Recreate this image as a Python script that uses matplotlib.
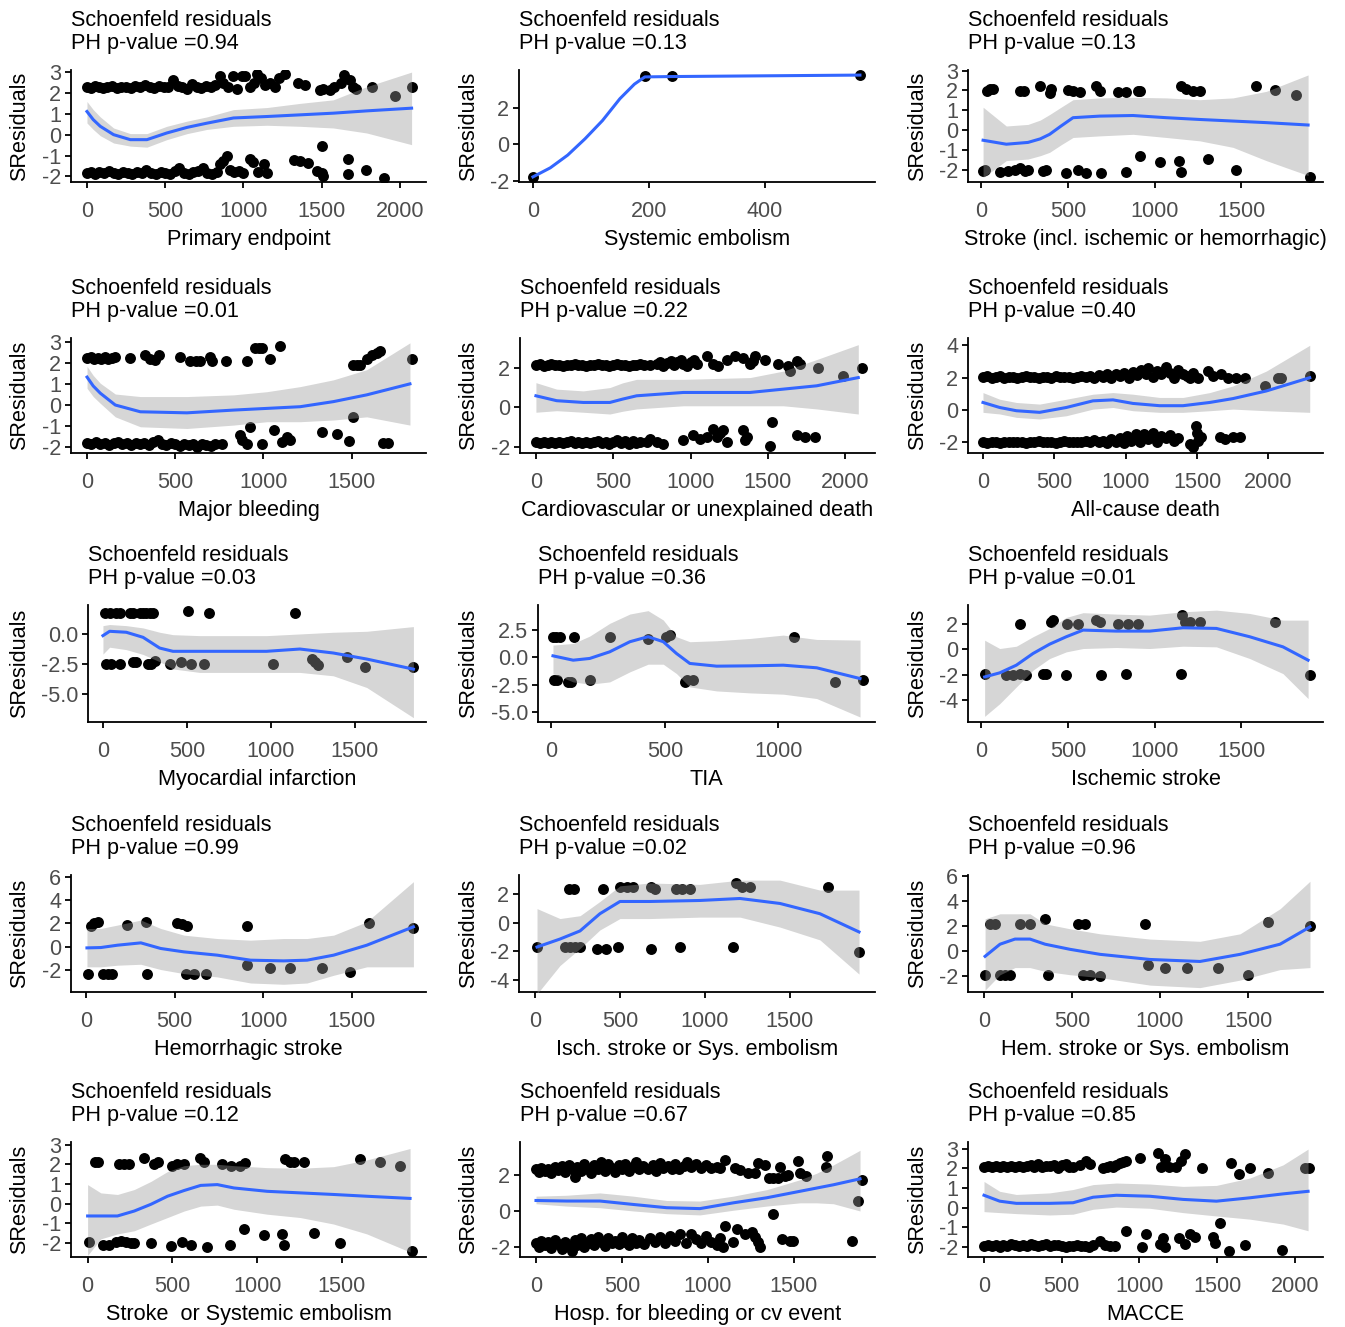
import matplotlib
matplotlib.use("Agg")
import matplotlib.pyplot as plt
import numpy as np

plt.rcParams['font.family'] = ['Liberation Sans', 'DejaVu Sans']
plt.rcParams['axes.unicode_minus'] = False

# ---- data: scaled Schoenfeld residuals (time, residual) per endpoint ----
primary_pts = [
    (0, 2.3), (25, 2.25), (50, 2.35), (75, 2.3), (100, 2.25), (130, 2.3), (160, 2.35), (190, 2.25), (220, 2.3), (250, 2.3),
    (280, 2.25), (310, 2.35), (340, 2.3), (370, 2.4), (400, 2.3), (430, 2.25), (460, 2.35), (490, 2.3), (520, 2.3), (550, 2.6),
    (580, 2.35), (610, 2.3), (640, 2.2), (670, 2.45), (700, 2.3), (730, 2.25), (760, 2.35), (790, 2.3), (820, 2.4), (850, 2.8),
    (870, 2.5), (900, 2.3), (930, 2.8), (960, 2.2), (990, 2.8), (1010, 2.8), (1040, 2.3), (1070, 2.5), (1085, 2.9), (1110, 2.7),
    (1140, 2.4), (1170, 2.5), (1200, 2.3), (1230, 2.7), (1265, 2.9), (1350, 2.5), (1390, 2.4), (1490, 2.15), (1510, 2.2), (1550, 2.15),
    (1580, 2.3), (1620, 2.5), (1640, 2.85), (1680, 2.6), (1700, 2.3), (1720, 2.2), (1819, 2.3), (1968, 1.83), (2074, 2.3),
    (0, -1.85), (25, -1.8), (50, -1.9), (80, -1.8), (110, -1.85), (140, -1.75), (170, -1.85), (200, -1.9), (230, -1.8), (260, -1.85),
    (290, -1.9), (320, -1.8), (350, -1.85), (380, -1.7), (410, -1.85), (440, -1.9), (470, -1.8), (500, -1.85), (530, -1.9), (560, -1.75),
    (590, -1.6), (620, -1.85), (650, -1.9), (680, -1.8), (710, -1.75), (740, -1.6), (770, -1.85), (800, -1.9), (830, -1.8), (850, -1.4),
    (870, -1.25), (894, -1.03), (915, -1.7), (940, -1.8), (970, -1.75), (1000, -1.85), (1043, -1.16), (1060, -1.3), (1090, -1.8), (1128, -1.43),
    (1150, -1.83), (1320, -1.2), (1360, -1.27), (1415, -1.35), (1468, -1.75), (1500, -0.56), (1500, -1.85), (1510, -2.0), (1670, -1.16), (1670, -1.9),
    (1783, -1.7), (1900, -2.06)]
primary_fit = [  # (time, loess fit, lower, upper)
    (0, 1.11, 0.56, 1.59), (40, 0.72, 0.25, 1.2), (85, 0.4, -0.05, 0.85), (170, 0.0, -0.4, 0.32), (277, -0.24, -0.55, 0.05),
    (383, -0.24, -0.6, 0.05), (510, 0.08, -0.24, 0.4), (640, 0.35, 0.05, 0.65), (766, 0.55, 0.25, 0.85),
    (936, 0.8, 0.4, 1.2), (1150, 0.87, 0.45, 1.3), (1362, 0.95, 0.4, 1.5), (1574, 1.03, 0.32, 1.67),
    (1787, 1.14, 0.08, 2.3), (2074, 1.27, -0.48, 3.0)]

sysemb_pts = [(0, -1.8), (193, 3.75), (240, 3.75), (564, 3.8)]
sysemb_fit = [
    (0, -1.8, -1.8, -1.8), (30, -1.3, -1.3, -1.3), (60, -0.6, -0.6, -0.6), (90, 0.3, 0.3, 0.3),
    (120, 1.3, 1.3, 1.3), (150, 2.5, 2.5, 2.5), (175, 3.3, 3.3, 3.3), (193, 3.7, 3.7, 3.7),
    (240, 3.72, 3.72, 3.72), (400, 3.76, 3.76, 3.76), (564, 3.8, 3.8, 3.8)]

stroke_pts = [
    (33, 1.98), (52, 2.08), (67, 2.08), (221, 1.98), (244, 1.98), (337, 2.2), (404, 2.08), (394, 1.87), (500, 2.03), (529, 1.95),
    (567, 1.9), (663, 2.2), (683, 1.98), (788, 1.9), (837, 1.9), (904, 1.95), (913, 1.98), (1154, 2.22), (1183, 2.08), (1221, 1.98),
    (1260, 1.98), (1587, 2.2), (1692, 2.03), (1813, 1.78),
    (10, -2.05), (20, -2.0), (106, -2.1), (154, -2.08), (192, -2.03), (221, -1.9), (250, -2.05), (269, -2.0), (356, -2.05), (375, -2.0),
    (490, -2.2), (558, -2.0), (606, -2.2), (692, -2.2), (837, -2.1), (913, -1.3), (1033, -1.6), (1140, -1.55), (1154, -2.1), (1308, -1.47),
    (1471, -2.0), (1894, -2.4)]
stroke_fit = [
    (10, -0.52, -2.4, 1.15), (144, -0.72, -1.55, 0.2), (269, -0.63, -1.47, 0.28), (340, -0.45, -1.3, 0.5),
    (394, -0.22, -1.13, 0.78), (460, 0.2, -0.75, 1.15),
    (529, 0.62, -0.38, 1.53), (683, 0.7, -0.3, 1.62), (875, 0.73, -0.22, 1.65), (1067, 0.62, -0.38, 1.62),
    (1260, 0.53, -0.55, 1.53), (1452, 0.45, -0.88, 1.62), (1644, 0.37, -1.55, 1.95), (1885, 0.25, -2.3, 2.78)]

bleed_pts = [
    (0, 2.22), (20, 2.25), (40, 2.2), (60, 2.22), (80, 2.18), (100, 2.25), (120, 2.2), (140, 2.22), (160, 2.25), (245, 2.22),
    (330, 2.38), (358, 2.2), (387, 2.14), (406, 2.38), (528, 2.27), (585, 2.1), (615, 2.1), (642, 2.1), (698, 2.27), (708, 2.06),
    (789, 2.1), (906, 2.1), (953, 2.7), (972, 2.7), (991, 2.7), (1038, 2.17), (1094, 2.78), (1509, 1.9), (1528, 1.9), (1547, 1.9),
    (1585, 2.17), (1613, 2.35), (1642, 2.46), (1660, 2.54), (1840, 2.17),
    (0, -1.8), (25, -1.85), (50, -1.75), (75, -1.85), (100, -1.8), (125, -1.9), (150, -1.8), (175, -1.75), (200, -1.85), (225, -1.8),
    (250, -1.9), (275, -1.8), (300, -1.85), (325, -1.8), (350, -1.9), (375, -1.75), (400, -1.65), (425, -1.85), (450, -1.9), (475, -1.8),
    (500, -1.85), (525, -1.95), (550, -1.85), (575, -1.9), (600, -1.85), (625, -2.0), (650, -1.85), (675, -1.9), (700, -1.95), (725, -1.85),
    (764, -1.85), (868, -1.43), (877, -1.67), (906, -1.83), (925, -1.03), (991, -1.83), (1057, -1.16), (1104, -1.75), (1132, -1.5), (1151, -1.67),
    (1330, -1.27), (1419, -1.35), (1487, -1.71), (1509, -0.56), (1679, -1.8), (1708, -1.8)]
bleed_fit = [
    (0, 1.32, 0.79, 1.83), (35, 0.9, 0.4, 1.4), (75, 0.56, 0.08, 1.03), (160, 0.0, -0.56, 0.52), (302, -0.32, -1.03, 0.4),
    (566, -0.37, -1.11, 0.4), (830, -0.24, -0.95, 0.48), (1019, -0.16, -0.79, 0.63), (1208, -0.08, -0.79, 0.87),
    (1396, 0.16, -0.71, 1.19), (1585, 0.48, -0.56, 1.67), (1830, 1.0, -0.95, 2.94)]

cvdeath_pts = [
    (0, 2.16), (25, 2.2), (50, 2.12), (75, 2.16), (100, 2.2), (125, 2.14), (150, 2.16), (175, 2.12), (200, 2.18), (225, 2.16),
    (250, 2.2), (275, 2.14), (300, 2.16), (325, 2.12), (350, 2.18), (375, 2.16), (400, 2.2), (425, 2.14), (450, 2.16), (475, 2.12),
    (500, 2.16), (525, 2.2), (550, 2.14), (575, 2.16), (600, 2.12), (625, 2.18), (650, 2.16), (675, 2.2), (700, 2.14), (737, 2.16),
    (780, 2.2), (800, 2.3), (820, 2.1), (845, 2.25), (870, 2.35), (890, 2.15), (910, 2.3), (935, 2.4), (950, 2.2), (975, 2.1),
    (1000, 2.3), (1020, 2.4), (1039, 2.2), (1103, 2.6), (1147, 2.19), (1179, 2.1), (1233, 2.4), (1287, 2.6), (1340, 2.5), (1384, 2.19),
    (1405, 2.36), (1416, 2.6), (1480, 2.4), (1567, 2.22), (1631, 2.1), (1642, 1.85), (1685, 2.36), (1707, 2.22), (1825, 1.99), (1987, 1.6),
    (2106, 1.99),
    (0, -1.77), (25, -1.8), (50, -1.75), (75, -1.8), (100, -1.77), (125, -1.82), (150, -1.75), (175, -1.8), (200, -1.77), (225, -1.72),
    (250, -1.8), (275, -1.77), (300, -1.82), (325, -1.75), (350, -1.8), (375, -1.77), (400, -1.72), (425, -1.8), (450, -1.77), (475, -1.85),
    (500, -1.75), (525, -1.65), (550, -1.8), (575, -1.72), (600, -1.85), (625, -1.7), (650, -1.8), (675, -1.75), (715, -1.77), (737, -1.6),
    (780, -1.77), (823, -1.85), (953, -1.69), (1017, -1.43), (1060, -1.6), (1103, -1.52), (1147, -1.1), (1168, -1.52), (1190, -1.3), (1211, -1.18),
    (1233, -1.77), (1340, -1.18), (1362, -1.52), (1351, -1.69), (1524, -0.76), (1513, -1.99), (1685, -1.43), (1739, -1.52), (1804, -1.52)]
cvdeath_fit = [
    (0, 0.59, -0.25, 1.26), (134, 0.34, -0.17, 0.93), (306, 0.25, -0.25, 0.84), (478, 0.25, -0.34, 1.01),
    (560, 0.42, -0.2, 1.25), (651, 0.59, -0.08, 1.43), (953, 0.76, 0.08, 1.43), (1384, 0.76, 0.08, 1.52), (1599, 0.93, 0.08, 1.85),
    (1815, 1.1, -0.08, 2.44), (2084, 1.52, -0.34, 3.2)]

allcause_pts = [
    (0, 2.04), (30, 2.08), (60, 2.0), (90, 2.04), (120, 2.08), (150, 2.0), (180, 2.04), (210, 2.06), (240, 2.0), (270, 2.04),
    (300, 2.08), (330, 2.02), (360, 2.04), (390, 2.0), (420, 2.06), (450, 2.04), (480, 2.0), (510, 2.08), (540, 2.02), (570, 2.04),
    (600, 2.06), (630, 2.0), (660, 2.04), (690, 2.08), (720, 2.02), (750, 2.1), (780, 2.0), (810, 2.15), (840, 2.05), (870, 2.2),
    (900, 2.0), (930, 2.25), (960, 2.1), (990, 2.3), (1020, 2.0), (1050, 2.35), (1080, 2.15), (1110, 2.5), (1140, 2.2), (1160, 2.6),
    (1190, 2.05), (1220, 2.4), (1250, 2.2), (1280, 2.65), (1310, 2.3), (1340, 2.0), (1370, 2.5), (1400, 2.2), (1430, 2.1), (1449, 1.95),
    (1472, 2.3), (1507, 2.0), (1577, 2.4), (1612, 2.1), (1670, 2.2), (1717, 2.0), (1776, 1.96), (1834, 2.0), (1974, 1.49), (2068, 2.0),
    (2090, 2.0), (2290, 2.1),
    (0, -1.98), (30, -2.02), (60, -1.95), (90, -1.98), (120, -2.02), (150, -1.95), (180, -1.98), (210, -2.0), (240, -1.95), (270, -1.98),
    (300, -2.02), (330, -1.95), (360, -1.98), (390, -1.92), (420, -2.0), (450, -1.98), (480, -1.95), (510, -2.02), (540, -1.98), (570, -1.92),
    (600, -1.98), (630, -2.0), (660, -1.95), (690, -1.98), (720, -1.9), (750, -2.0), (780, -1.85), (810, -1.98), (840, -1.9), (870, -2.05),
    (900, -1.8), (930, -1.95), (960, -1.75), (990, -2.05), (1010, -1.6), (1040, -1.9), (1070, -1.5), (1100, -2.0), (1130, -1.45), (1160, -1.8),
    (1190, -1.4), (1220, -1.95), (1250, -1.6), (1280, -1.75), (1310, -1.55), (1340, -1.9), (1367, -1.7), (1449, -2.08), (1472, -2.29), (1495, -0.96),
    (1507, -1.88), (1500, -1.4), (1530, -1.67), (1659, -1.67), (1694, -1.78), (1752, -1.67), (1799, -1.67)]
allcause_fit = [
    (0, 0.47, -0.14, 1.08), (117, 0.16, -0.24, 0.67), (234, -0.04, -0.45, 0.47), (397, -0.14, -0.55, 0.37),
    (584, 0.16, -0.35, 0.67), (771, 0.57, 0.06, 0.98), (911, 0.63, 0.16, 1.08), (1051, 0.41, -0.04, 0.98),
    (1238, 0.27, -0.14, 0.78), (1402, 0.27, -0.14, 0.78), (1589, 0.47, -0.04, 1.08), (1752, 0.71, 0.06, 1.49),
    (1986, 1.18, -0.04, 2.41), (2290, 2.0, -0.14, 4.0)]

mi_pts = [
    (10, 1.72), (40, 1.72), (80, 1.72), (99, 1.72), (159, 1.72), (179, 1.72), (219, 1.72), (239, 1.72), (259, 1.72), (278, 1.72),
    (298, 1.72), (507, 1.89), (632, 1.72), (1143, 1.72),
    (20, -2.5), (50, -2.5), (99, -2.5), (179, -2.36), (199, -2.36), (268, -2.5), (288, -2.5), (308, -2.28), (398, -2.5), (467, -2.36),
    (527, -2.5), (600, -2.5), (1014, -2.5), (1243, -2.08), (1262, -2.36), (1282, -2.56), (1451, -1.94), (1561, -2.78), (1849, -2.78)]
mi_fit = [
    (0, -0.14, -1.67, 0.69), (40, 0.22, -1.1, 0.78), (139, 0.14, -1.3, 0.69), (239, -0.28, -1.7, 0.5),
    (338, -1.17, -2.3, 0.14), (417, -1.44, -2.9, -0.06), (576, -1.44, -3.19, -0.14), (974, -1.44, -3.19, -0.14),
    (1173, -1.25, -3.19, 0.0), (1372, -1.58, -3.47, 0.14), (1571, -2.08, -4.44, 0.22), (1849, -2.92, -6.94, 0.61)]

tia_pts = [
    (7, 1.85), (22, 1.85), (37, 1.85), (99, 1.85), (257, 1.85), (426, 1.66), (507, 1.85), (522, 2.06), (1071, 1.85),
    (10, -2.03), (25, -2.03), (74, -2.25), (88, -2.25), (169, -2.03), (588, -2.25), (599, -2.03), (625, -2.03), (1250, -2.25), (1372, -2.03)]
tia_fit = [
    (7, 0.15, -1.5, 1.14), (96, -0.25, -2.25, 1.29), (169, -0.09, -2.46, 1.97), (257, 0.52, -2.25, 3.14),
    (346, 1.45, -1.32, 4.0), (426, 1.91, -0.62, 4.31), (493, 1.45, -0.62, 3.45), (551, 0.37, -1.48, 1.91),
    (610, -0.55, -2.71, 1.45), (728, -0.8, -3.08, 1.54), (875, -0.77, -3.26, 1.75), (1022, -0.71, -3.38, 2.06),
    (1169, -0.95, -3.78, 1.66), (1360, -1.94, -5.48, 1.6)]

isch_pts = [
    (221, 2.0), (404, 2.14), (413, 2.27), (494, 2.0), (558, 2.0), (663, 2.27), (683, 2.14), (788, 2.0), (846, 2.0), (904, 2.0),
    (1160, 2.66), (1173, 2.14), (1202, 2.14), (1260, 2.14), (1692, 2.14),
    (19, -1.91), (144, -1.98), (183, -1.98), (221, -1.91), (260, -1.98), (356, -1.91), (375, -1.91), (490, -2.04), (692, -2.04), (837, -1.91),
    (1154, -1.91), (1894, -2.04)]
isch_fit = [
    (19, -2.17, -5.25, 0.7), (106, -1.85, -4.26, 0.05), (202, -1.25, -2.95, 0.23), (298, -0.34, -1.64, 0.97),
    (394, 0.39, -0.73, 1.62), (490, 0.97, -0.21, 2.48), (587, 1.49, 0.05, 2.85), (779, 1.41, 0.13, 2.74),
    (971, 1.41, 0.05, 2.66), (1163, 1.67, 0.23, 2.92), (1356, 1.62, 0.18, 3.05), (1548, 0.97, -0.73, 2.79),
    (1740, 0.18, -1.91, 2.27), (1885, -0.86, -3.86, 2.27)]

hem_pts = [
    (28, 1.77), (47, 2.0), (66, 2.09), (234, 1.86), (338, 2.14), (516, 2.06), (544, 1.94), (568, 1.77), (910, 1.77), (1595, 2.06),
    (1848, 1.57),
    (13, -2.34), (94, -2.34), (122, -2.34), (150, -2.34), (347, -2.34), (563, -2.34), (610, -2.34), (675, -2.29), (910, -1.57), (1041, -1.77),
    (1154, -1.77), (1332, -1.77), (1488, -2.14)]
hem_fit = [
    (6, -0.09, -1.71, 1.57), (84, -0.06, -1.71, 1.57), (178, 0.14, -1.57, 1.86), (310, 0.34, -1.49, 2.29),
    (422, -0.14, -1.94, 1.57), (553, -0.43, -2.29, 1.0), (741, -0.71, -2.57, 0.71), (929, -1.14, -3.09, 0.57),
    (1116, -1.2, -3.2, 0.71), (1248, -1.14, -3.09, 0.71), (1398, -0.71, -2.43, 1.0), (1585, 0.14, -1.71, 2.14),
    (1848, 1.71, -1.71, 5.57)]

ischse_pts = [
    (200, 2.4), (229, 2.4), (400, 2.4), (500, 2.55), (541, 2.55), (576, 2.5), (682, 2.55), (706, 2.4), (829, 2.4), (865, 2.4),
    (912, 2.4), (1182, 2.8), (1218, 2.55), (1265, 2.55), (1724, 2.5),
    (12, -1.7), (176, -1.7), (206, -1.7), (235, -1.7), (265, -1.7), (365, -1.86), (418, -1.86), (488, -1.7), (682, -1.86), (853, -1.7),
    (1165, -1.7), (1906, -2.07)]
ischse_fit = [
    (12, -1.7, -5.0, 1.0), (147, -1.14, -3.0, 0.3), (265, -0.57, -1.8, 0.5), (382, 0.64, -0.5, 1.5),
    (500, 1.5, 0.3, 2.6), (676, 1.5, 0.3, 2.8), (970, 1.57, 0.4, 2.7), (1206, 1.71, 0.4, 3.0),
    (1441, 1.36, -0.3, 3.0), (1676, 0.64, -1.2, 2.3), (1906, -0.64, -3.6, 2.3)]

hemse_pts = [
    (34, 2.2), (60, 2.2), (204, 2.2), (261, 2.2), (347, 2.6), (534, 2.2), (574, 2.2), (915, 2.2), (1614, 2.36), (1852, 2.0),
    (6, -1.87), (91, -1.87), (120, -1.87), (148, -1.87), (364, -1.87), (563, -1.87), (602, -1.87), (659, -2.0), (932, -1.06), (1028, -1.3),
    (1153, -1.3), (1330, -1.3), (1500, -1.87)]
hemse_fit = [
    (6, -0.4, -3.1, 2.6), (91, 0.57, -1.87, 3.0), (176, 0.98, -1.3, 3.0), (261, 0.98, -1.3, 3.0),
    (347, 0.57, -1.6, 2.2), (489, 0.16, -1.87, 1.8), (659, -0.24, -2.1, 1.4), (943, -0.65, -2.7, 0.98),
    (1227, -0.81, -2.9, 0.8), (1455, -0.24, -2.3, 1.4), (1682, 0.57, -1.46, 3.4), (1852, 1.95, -1.3, 5.6)]

strokese_pts = [
    (43, 2.1), (59, 2.1), (186, 2.02), (216, 2.02), (245, 2.02), (333, 2.33), (390, 2.02), (418, 2.13), (500, 1.93), (529, 2.0),
    (569, 2.0), (663, 2.33), (686, 2.13), (794, 2.02), (843, 1.93), (898, 1.93), (931, 2.05), (1167, 2.25), (1196, 2.13), (1216, 2.13),
    (1275, 2.13), (1604, 2.25), (1722, 2.13), (1843, 1.93),
    (10, -1.95), (88, -2.07), (127, -2.07), (167, -1.95), (196, -1.9), (225, -1.95), (255, -2.0), (275, -2.0), (373, -2.0), (490, -2.12),
    (559, -1.95), (612, -2.08), (702, -2.2), (839, -2.08), (922, -1.28), (1039, -1.57), (1147, -1.53), (1161, -2.08), (1333, -1.48), (1486, -1.98),
    (1912, -2.4)]
strokese_fit = [
    (0, -0.62, -2.62, 0.97), (78, -0.62, -1.78, 0.55), (176, -0.62, -1.53, 0.47), (275, -0.37, -1.37, 0.72),
    (373, -0.03, -1.03, 1.13), (471, 0.38, -0.7, 1.63), (569, 0.67, -0.37, 1.93), (667, 0.93, -0.12, 2.0),
    (765, 0.97, -0.07, 2.0), (863, 0.8, -0.28, 1.93), (1059, 0.63, -0.53, 1.83), (1255, 0.55, -0.7, 1.8),
    (1451, 0.47, -1.03, 1.88), (1647, 0.38, -1.53, 2.22), (1902, 0.27, -2.45, 2.8)]

hosp_pts = [
    (0, 2.3), (15, 2.15), (30, 2.4), (50, 2.2), (70, 2.35), (90, 2.1), (110, 2.45), (130, 2.25), (150, 2.5), (170, 2.15),
    (190, 2.55), (210, 2.3), (225, 1.9), (240, 2.45), (260, 2.2), (280, 2.6), (300, 2.3), (320, 2.1), (340, 2.55), (360, 2.35),
    (380, 2.7), (400, 2.2), (420, 2.6), (440, 2.4), (460, 2.15), (480, 2.55), (500, 2.35), (520, 2.6), (540, 2.2), (560, 2.45),
    (580, 2.7), (600, 2.3), (620, 2.5), (650, 2.35), (680, 2.55), (700, 2.2), (720, 2.65), (740, 2.4), (770, 2.5), (790, 2.3),
    (810, 2.6), (830, 2.35), (860, 2.5), (880, 2.7), (900, 2.45), (930, 2.6), (960, 2.4), (990, 2.55), (1020, 2.4), (1050, 2.45),
    (1070, 2.4), (1099, 2.82), (1157, 2.4), (1186, 2.27), (1234, 2.09), (1273, 2.09), (1293, 2.64), (1331, 2.55), (1357, 1.82), (1380, 1.82),
    (1409, 1.82), (1419, 2.45), (1448, 1.91), (1467, 2.0), (1525, 2.76), (1535, 2.09), (1570, 1.91), (1686, 2.45), (1690, 3.05), (1893, 1.73),
    (1874, 0.55), (1380, -0.18),
    (0, -1.75), (15, -2.0), (30, -1.65), (50, -1.9), (70, -1.7), (90, -2.05), (110, -1.6), (130, -1.85), (150, -2.1), (170, -1.7),
    (190, -1.95), (210, -2.2), (225, -1.6), (240, -1.9), (260, -1.5), (280, -2.0), (300, -1.75), (320, -1.55), (340, -1.9), (360, -1.45),
    (380, -1.7), (400, -1.95), (420, -1.5), (440, -1.75), (460, -1.65), (480, -1.85), (500, -1.45), (520, -1.7), (540, -1.9), (560, -1.5),
    (580, -1.75), (600, -1.6), (630, -1.85), (660, -1.5), (690, -1.7), (720, -1.45), (750, -1.8), (780, -1.4), (810, -1.65), (840, -1.3),
    (870, -1.75), (900, -1.25), (930, -1.55), (960, -1.8), (990, -1.4), (1020, -1.7), (1050, -1.9), (1070, -1.5), (1089, -2.0), (1099, -0.82),
    (1147, -1.73), (1167, -1.0), (1215, -1.27), (1254, -1.18), (1273, -1.45), (1293, -1.73), (1302, -2.0), (1428, -1.55), (1477, -1.64), (1496, -1.64),
    (1835, -1.64)]
hosp_fit = [
    (0, 0.58, 0.4, 0.82), (178, 0.55, 0.27, 0.87), (372, 0.55, 0.18, 1.0), (566, 0.36, 0.0, 0.82),
    (760, 0.18, -0.15, 0.58), (953, 0.13, -0.22, 0.55), (1147, 0.45, 0.04, 0.82), (1341, 0.73, 0.27, 1.18),
    (1438, 0.91, 0.36, 1.45), (1535, 1.09, 0.45, 1.73), (1632, 1.27, 0.45, 2.09), (1729, 1.45, 0.4, 2.55),
    (1884, 1.78, 0.0, 3.36)]

macce_pts = [
    (0, 2.08), (25, 2.12), (50, 2.05), (75, 2.1), (100, 2.08), (125, 2.12), (150, 2.05), (175, 2.1), (200, 2.08), (225, 2.12),
    (250, 2.05), (275, 2.1), (300, 2.15), (325, 2.08), (350, 2.2), (375, 2.05), (400, 2.12), (425, 2.1), (450, 2.18), (475, 2.0),
    (500, 2.15), (525, 2.2), (550, 2.05), (573, 2.08), (616, 2.17), (659, 2.37), (680, 2.2), (766, 2.03), (790, 2.05), (810, 2.1),
    (830, 2.08), (850, 2.15), (873, 2.25), (895, 2.3), (916, 2.37), (1006, 2.53), (1120, 2.75), (1142, 2.08), (1163, 2.47), (1191, 2.08),
    (1238, 2.08), (1270, 2.37), (1292, 2.7), (1403, 2.03), (1592, 2.25), (1642, 1.7), (1712, 2.03), (1828, 1.75), (2064, 2.03), (2092, 2.03),
    (0, -1.92), (25, -1.88), (50, -1.95), (75, -1.9), (100, -1.98), (125, -1.88), (150, -1.92), (175, -1.85), (200, -1.9), (225, -1.95),
    (250, -1.88), (275, -1.92), (300, -1.85), (325, -1.9), (350, -1.95), (375, -1.88), (400, -1.85), (425, -1.95), (450, -1.9), (475, -1.88),
    (500, -1.95), (525, -1.98), (550, -1.92), (575, -1.95), (600, -1.9), (625, -1.95), (650, -1.92), (675, -1.98), (700, -1.9), (745, -1.67),
    (780, -1.9), (810, -1.92), (841, -1.92), (916, -1.17), (1020, -1.97), (1045, -1.33), (1131, -1.83), (1152, -1.53), (1163, -2.0), (1255, -1.53),
    (1292, -1.83), (1324, -1.33), (1356, -1.47), (1474, -1.47), (1485, -1.8), (1521, -0.78), (1577, -2.2), (1678, -1.87), (1920, -2.17)]
macce_fit = [
    (0, 0.63, -0.2, 1.33), (101, 0.33, -0.25, 0.83), (208, 0.22, -0.3, 0.67), (423, 0.22, -0.37, 0.75),
    (573, 0.25, -0.33, 0.92), (702, 0.53, -0.08, 1.17), (852, 0.63, 0.03, 1.25), (1067, 0.58, -0.03, 1.2),
    (1281, 0.42, -0.25, 1.08), (1496, 0.33, -0.42, 1.13), (1710, 0.5, -0.58, 1.5), (1925, 0.7, -0.83, 2.17),
    (2086, 0.83, -1.17, 2.97)]

endpoints = ["Primary endpoint", "Systemic embolism", "Stroke (incl. ischemic or hemorrhagic)",
             "Major bleeding", "Cardiovascular or unexplained death", "All-cause death",
             "Myocardial infarction", "TIA", "Ischemic stroke",
             "Hemorrhagic stroke", "Isch. stroke or Sys. embolism", "Hem. stroke or Sys. embolism",
             "Stroke  or Systemic embolism", "Hosp. for bleeding or cv event", "MACCE"]
p_values = ["0.94", "0.13", "0.13", "0.01", "0.22", "0.40", "0.03", "0.36", "0.01",
            "0.99", "0.02", "0.96", "0.12", "0.67", "0.85"]
all_pts = [primary_pts, sysemb_pts, stroke_pts, bleed_pts, cvdeath_pts, allcause_pts, mi_pts, tia_pts, isch_pts,
           hem_pts, ischse_pts, hemse_pts, strokese_pts, hosp_pts, macce_pts]
all_fits = [primary_fit, sysemb_fit, stroke_fit, bleed_fit, cvdeath_fit, allcause_fit, mi_fit, tia_fit, isch_fit,
            hem_fit, ischse_fit, hemse_fit, strokese_fit, hosp_fit, macce_fit]

# ---- axis settings ----
xlims = [(-102, 2166), (-24, 590), (-77, 1971), (-91, 1921), (-103, 2192), (-105, 2383),
         (-89, 1924), (-59, 1426), (-77, 1971), (-84, 1919), (-94, 2000), (-91, 1926),
         (-98, 1996), (-93, 1971), (-103, 2182)]
ylims = [(-2.27, 3.1), (-2.08, 4.08), (-2.63, 3.03), (-2.27, 3.17), (-2.33, 3.54), (-2.65, 4.45),
         (-7.3, 2.4), (-5.94, 4.83), (-5.69, 3.45), (-3.86, 6.14), (-4.86, 3.36), (-3.25, 6.1),
         (-2.7, 3.13), (-2.55, 3.82), (-2.5, 3.33)]
yticks = [[-2, -1, 0, 1, 2, 3], [-2, 0, 2], [-2, -1, 0, 1, 2, 3], [-2, -1, 0, 1, 2, 3], [-2, 0, 2], [-2, 0, 2, 4],
          [-5, -2.5, 0], [-5, -2.5, 0, 2.5], [-4, -2, 0, 2], [-2, 0, 2, 4, 6], [-4, -2, 0, 2], [-2, 0, 2, 4, 6],
          [-2, -1, 0, 1, 2, 3], [-2, 0, 2], [-2, -1, 0, 1, 2, 3]]
decimal_y = [False] * 6 + [True, True] + [False] * 7

# panel placement in pixels
W, H = 1345, 1327
row_tb = [(70, 182), (338, 453), (605, 722), (875, 992), (1142, 1257)]
col_left = [[71, 519, 968], [71, 520, 968], [88, 538, 968], [71, 519, 968], [71, 520, 968]]
col_right = [426, 875, 1323]
cell_left = [0, 449, 898]

FS = 15.6
TICK_C = '#4d4d4d'

fig = plt.figure(figsize=(W / 100, H / 100), dpi=100)

for i in range(15):
    r, c = divmod(i, 3)
    top, bottom = row_tb[r]
    left, right = col_left[r][c], col_right[c]
    ax = fig.add_axes([left / W, 1 - bottom / H, (right - left) / W, (bottom - top) / H])

    px, py = zip(*all_pts[i])
    ax.scatter(px, py, s=62, color='black', linewidths=0, zorder=2)

    fx, fy, lo, hi = (np.array(v) for v in zip(*all_fits[i]))
    ax.fill_between(fx, lo, hi, color='#999999', alpha=0.4, linewidth=0, zorder=3)
    ax.plot(fx, fy, color='#3366FF', linewidth=2.2, zorder=4)

    ax.set_xlim(*xlims[i])
    ax.set_ylim(*ylims[i])
    step = 200 if i == 1 else 500
    ax.set_xticks(np.arange(0, xlims[i][1], step))
    ax.set_yticks(yticks[i])
    if decimal_y[i]:
        ax.set_yticklabels(["%.1f" % v for v in yticks[i]])
    else:
        ax.set_yticklabels(["%d" % v for v in yticks[i]])

    for side in ['top', 'right']:
        ax.spines[side].set_visible(False)
    for side in ['left', 'bottom']:
        ax.spines[side].set_linewidth(1.3)
        ax.spines[side].set_color('black')
    ax.tick_params(axis='both', length=4, width=1.3, color='black', labelsize=FS,
                   labelcolor=TICK_C)
    ax.tick_params(axis='x', pad=9.5)
    ax.tick_params(axis='y', pad=3)

    ax.set_xlabel(endpoints[i], fontsize=FS, color='black', labelpad=5.5)
    ax.set_title("Schoenfeld residuals\nPH p-value =" + p_values[i], loc='left',
                 fontsize=FS, color='black', pad=15, linespacing=1.12)
    fig.text((cell_left[c] + 20) / W, 1 - (top + bottom) / 2 / H, "SResiduals",
             rotation=90, ha='center', va='center', fontsize=FS, color='black')

fig.savefig("out.png", dpi=100)
